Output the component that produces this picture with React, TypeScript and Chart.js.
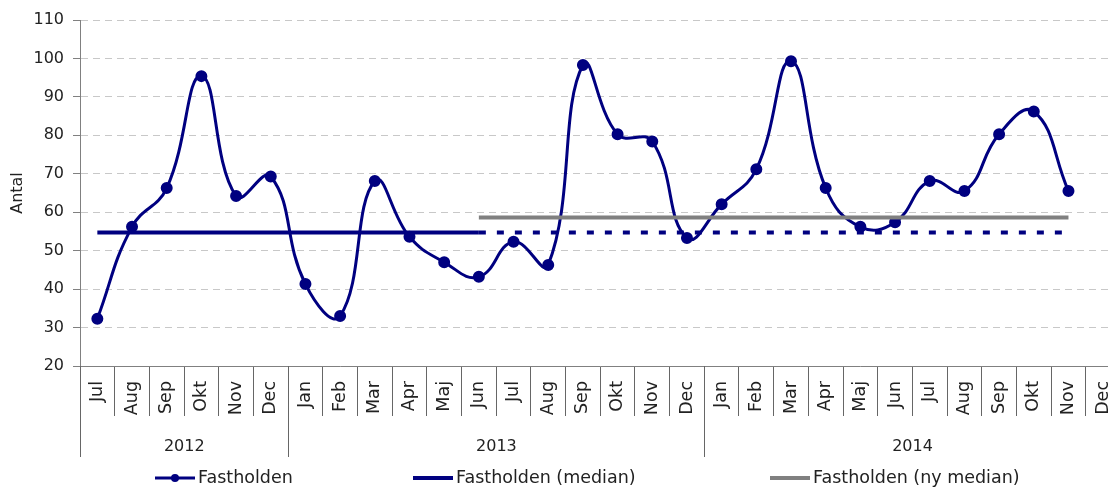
import React, { useEffect, useRef } from 'react';
import { Chart, registerables } from 'chart.js';

Chart.register(...registerables);

const monthLabels = [
  'Jul', 'Aug', 'Sep', 'Okt', 'Nov', 'Dec',
  'Jan', 'Feb', 'Mar', 'Apr', 'Maj', 'Jun', 'Jul', 'Aug', 'Sep', 'Okt', 'Nov', 'Dec',
  'Jan', 'Feb', 'Mar', 'Apr', 'Maj', 'Jun', 'Jul', 'Aug', 'Sep', 'Okt', 'Nov', 'Dec',
];
const yearLabels = ['2012', '2013', '2014'];
const yearSpans = [6, 12, 12];

const fastholden = [
  32.3, 56.2, 66.3, 95.4, 64.2, 69.3,
  41.3, 33.0, 68.1, 53.6, 47.0, 43.2, 52.3, 46.3, 98.3, 80.3, 78.4, 53.3,
  62.1, 71.2, 99.3, 66.3, 56.2, 57.4, 68.1, 65.5, 80.3, 86.2, 65.5, null,
];
const medianValue = 54.7;
const newMedianValue = 58.6;
const medianSolidIdx = [0, 11];
const medianDottedIdx = [11, 28];
const newMedianIdx = [11, 28];

const legendLabels = ['Fastholden', 'Fastholden (median)', 'Fastholden (ny median)'];

const NAVY = '#000080';
const GREY = '#808080';
const FONT = '"DejaVu Sans", sans-serif';
const TEXT = '#222222';

const span = (range: number[], v: number) =>
  monthLabels.map((_, i) => (i >= range[0] && i <= range[1] ? v : null));

const yearPlugin = {
  id: 'yearRow',
  afterDraw(chart: any) {
    const xs = chart.scales.x;
    const ctx = chart.ctx as CanvasRenderingContext2D;
    const top = chart.chartArea.bottom;
    const half = (xs.getPixelForValue(1) - xs.getPixelForValue(0)) / 2;
    ctx.save();
    ctx.strokeStyle = '#666666';
    ctx.lineWidth = 1;
    ctx.font = `16px ${FONT}`;
    ctx.fillStyle = TEXT;
    ctx.textAlign = 'center';
    ctx.textBaseline = 'middle';
    let start = 0;
    yearSpans.forEach((n, i) => {
      const left = Math.round(xs.getPixelForValue(start) - half) + 0.5;
      const right = xs.getPixelForValue(start + n - 1) + half;
      ctx.beginPath();
      ctx.moveTo(left, top);
      ctx.lineTo(left, top + 91);
      ctx.stroke();
      ctx.fillText(yearLabels[i], (left + right) / 2, top + 81);
      start += n;
    });
    // legend
    const ly = 478;
    const items = [
      { x: 155, color: NAVY, w: 3, dot: true },
      { x: 413, color: NAVY, w: 4, dot: false },
      { x: 770, color: GREY, w: 4, dot: false },
    ];
    ctx.textAlign = 'left';
    ctx.font = `17.5px ${FONT}`;
    items.forEach((it, i) => {
      ctx.strokeStyle = it.color;
      ctx.lineWidth = it.w;
      ctx.beginPath();
      ctx.moveTo(it.x, ly);
      ctx.lineTo(it.x + 40, ly);
      ctx.stroke();
      if (it.dot) {
        ctx.fillStyle = it.color;
        ctx.beginPath();
        ctx.arc(it.x + 20, ly, 4, 0, Math.PI * 2);
        ctx.fill();
      }
      ctx.fillStyle = TEXT;
      ctx.fillText(legendLabels[i], it.x + 43, ly);
    });
    ctx.restore();
  },
};

export default function App() {
  const ref = useRef<HTMLCanvasElement>(null);
  useEffect(() => {
    if (!ref.current) return;
    const chart = new Chart(ref.current, {
      type: 'line',
      data: {
        labels: monthLabels,
        datasets: [
          {
            label: 'Fastholden (ny median)',
            data: span(newMedianIdx, newMedianValue),
            borderColor: GREY,
            borderWidth: 4,
            pointRadius: 0,
            tension: 0,
            spanGaps: false,
          },
          {
            label: 'Fastholden (median)',
            data: span(medianSolidIdx, medianValue),
            borderColor: NAVY,
            borderWidth: 4,
            pointRadius: 0,
            tension: 0,
          },
          {
            label: 'Fastholden (median) forlænget',
            data: span(medianDottedIdx, medianValue),
            borderColor: NAVY,
            borderWidth: 4,
            borderDash: [7, 11],
            borderCapStyle: 'butt',
            pointRadius: 0,
            tension: 0,
          },
          {
            label: 'Fastholden',
            data: fastholden,
            borderColor: NAVY,
            backgroundColor: NAVY,
            borderWidth: 3,
            pointRadius: 4.5,
            pointBackgroundColor: NAVY,
            pointBorderColor: NAVY,
            tension: 0.45,
          },
        ],
      },
      options: {
        responsive: false,
        animation: false,
        devicePixelRatio: 1,
        layout: { padding: { top: 20, left: 0, right: 0, bottom: 0 } },
        plugins: { legend: { display: false }, tooltip: { enabled: false } },
        scales: {
          x: {
            type: 'category',
            offset: true,
            grid: {
              drawOnChartArea: false,
              offset: true,
              tickLength: 50,
              tickColor: '#666666',
              color: '#666666',
            },
            border: { display: true, color: GREY, width: 1 },
            ticks: {
              autoSkip: false,
              minRotation: 90,
              maxRotation: 90,
              padding: -35,
              color: TEXT,
              font: { family: FONT, size: 17.5 },
            },
            afterFit: (s: any) => {
              s.height = 122;
            },
          },
          y: {
            min: 20,
            max: 110,
            ticks: {
              stepSize: 10,
              padding: 9,
              color: TEXT,
              font: { family: FONT, size: 16 },
            },
            grid: {
              color: '#c8c8c8',
              tickLength: 7,
              tickColor: GREY,
              tickBorderDash: [],
            },
            border: { display: true, color: GREY, width: 1, dash: [7, 5] },
            title: {
              display: true,
              text: 'Antal',
              color: TEXT,
              font: { family: FONT, size: 16 },
              padding: { top: 8, bottom: 0 },
            },
            afterFit: (s: any) => {
              s.width = 80;
            },
          },
        },
      },
      plugins: [yearPlugin],
    });
    return () => chart.destroy();
  }, []);
  return (
    <div style={{ position: 'fixed', left: 0, top: 0, width: 1108, height: 488, overflow: 'hidden', background: '#fff' }}>
      <canvas ref={ref} width={1128} height={488} style={{ display: 'block', width: 1128, height: 488 }} />
    </div>
  );
}
